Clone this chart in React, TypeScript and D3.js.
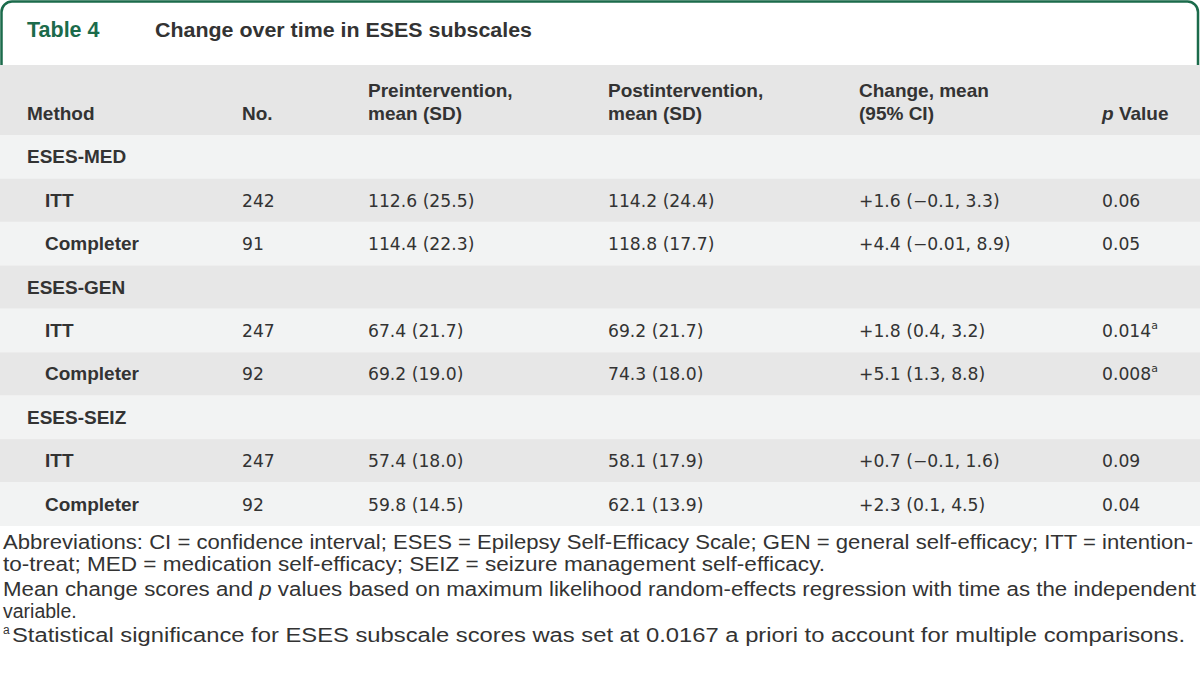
import React from "react";
import * as d3 from "d3";

const groups = ["ESES-MED", "ESES-GEN", "ESES-SEIZ"];
const methods = ["ITT", "Completer"];
const nValues = [242, 91, 247, 92, 247, 92];
const preMean = [112.6, 114.4, 67.4, 69.2, 57.4, 59.8];
const preSD = [25.5, 22.3, 21.7, 19.0, 18.0, 14.5];
const postMean = [114.2, 118.8, 69.2, 74.3, 58.1, 62.1];
const postSD = [24.4, 17.7, 21.7, 18.0, 17.9, 13.9];
const changeMean = [1.6, 4.4, 1.8, 5.1, 0.7, 2.3];
const ciLow = ["−0.1", "−0.01", "0.4", "1.3", "−0.1", "0.1"];
const ciHigh = [3.3, 8.9, 3.2, 8.8, 1.6, 4.5];
const pValues = ["0.06", "0.05", "0.014", "0.008", "0.09", "0.04"];
const significant = [false, false, true, true, false, false];

const headers = [
  ["Method"],
  ["No."],
  ["Preintervention,", "mean (SD)"],
  ["Postintervention,", "mean (SD)"],
  ["Change, mean", "(95% CI)"],
  ["p Value"],
];

const GREEN = "#1b6b4b";
const TEXT = "#333";
const FONT = "'Liberation Sans', Arial, sans-serif";
const NUMFONT = "'DejaVu Sans', sans-serif";

const colX = [27, 242, 368, 608, 859, 1102];

type Row = { kind: "group" | "sub"; label: string; idx?: number };

export default function App() {
  const rows: Row[] = [];
  groups.forEach((g, gi) => {
    rows.push({ kind: "group", label: g });
    methods.forEach((m, mi) => rows.push({ kind: "sub", label: m, idx: gi * 2 + mi }));
  });

  const y = d3
    .scaleBand<number>()
    .domain(d3.range(rows.length))
    .range([135, 526])
    .padding(0);
  const bw = y.bandwidth();

  const fmt1 = d3.format(".1f");
  const numProps = { fill: TEXT, fontSize: 17.2, fontFamily: NUMFONT };

  return (
    <svg
      width={1200}
      height={687}
      style={{ position: "absolute", left: 0, top: 0, background: "#fff" }}
      fontFamily={FONT}
    >
      <rect x={0} y={0} width={1200} height={687} fill="#fff" />
      {/* title frame */}
      <path
        d="M1.5,66 V12 A10.5,10.5 0 0 1 12,1.5 H1187.5 A10.5,10.5 0 0 1 1198,12 V66"
        fill="none"
        stroke={GREEN}
        strokeWidth={2.5}
      />
      <text x={27} y={37} fill={GREEN} fontSize={21.5} fontWeight="bold">
        Table 4
      </text>
      <text x={155} y={37} fill={TEXT} fontSize={20} fontWeight="bold" textLength={377} lengthAdjust="spacingAndGlyphs">
        Change over time in ESES subscales
      </text>

      {/* header band */}
      <rect x={0} y={65} width={1200} height={70} fill="#e6e6e6" />
      {headers.map((h, i) => (
        <g key={i}>
          {h.map((line, li) => (
            <text
              key={li}
              x={colX[i]}
              y={h.length === 2 ? 97 + li * 23 : 120}
              fill={TEXT}
              fontSize={19}
              fontWeight="bold"
            >
              {line === "p Value" ? (
                <>
                  <tspan fontStyle="italic">p</tspan> Value
                </>
              ) : (
                line
              )}
            </text>
          ))}
        </g>
      ))}

      {/* body rows */}
      {rows.map((r, i) => {
        const y0 = y(i)!;
        const cy = y0 + bw / 2 + 6.5;
        const fill = i % 2 === 0 ? "#f2f3f3" : "#e7e7e7";
        return (
          <g key={i}>
            <rect x={0} y={y0} width={1200} height={bw} fill={fill} />
            {r.kind === "group" ? (
              <text x={colX[0]} y={cy} fill={TEXT} fontSize={19} fontWeight="bold">
                {r.label}
              </text>
            ) : (
              <>
                <text x={45} y={cy} fill={TEXT} fontSize={19} fontWeight="bold">
                  {r.label}
                </text>
                <text x={colX[1]} y={cy} {...numProps}>
                  {nValues[r.idx!]}
                </text>
                <text x={colX[2]} y={cy} {...numProps}>
                  {`${fmt1(preMean[r.idx!])} (${fmt1(preSD[r.idx!])})`}
                </text>
                <text x={colX[3]} y={cy} {...numProps}>
                  {`${fmt1(postMean[r.idx!])} (${fmt1(postSD[r.idx!])})`}
                </text>
                <text x={colX[4]} y={cy} {...numProps}>
                  {`+${fmt1(changeMean[r.idx!])} (${ciLow[r.idx!]}, ${fmt1(ciHigh[r.idx!])})`}
                </text>
                <text x={colX[5]} y={cy} {...numProps}>
                  {pValues[r.idx!]}
                  {significant[r.idx!] && (
                    <tspan fontSize={11} dy={-8}>
                      a
                    </tspan>
                  )}
                </text>
              </>
            )}
          </g>
        );
      })}

      {/* footnotes */}
      <g fill={TEXT} fontSize={19.5}>
        <text x={3} y={549} textLength={1190} lengthAdjust="spacingAndGlyphs">
          Abbreviations: CI = confidence interval; ESES = Epilepsy Self-Efficacy Scale; GEN = general self-efficacy; ITT = intention-
        </text>
        <text x={3} y={571} textLength={822} lengthAdjust="spacingAndGlyphs">
          to-treat; MED = medication self-efficacy; SEIZ = seizure management self-efficacy.
        </text>
        <text x={3} y={596} textLength={1193} lengthAdjust="spacingAndGlyphs">
          Mean change scores and <tspan fontStyle="italic">p</tspan> values based on maximum likelihood random-effects regression with time as the independent
        </text>
        <text x={3} y={618}>
          variable.
        </text>
        <text x={3} y={634} fontSize={12}>
          a
        </text>
        <text x={12} y={642} textLength={1173} lengthAdjust="spacingAndGlyphs">
          Statistical significance for ESES subscale scores was set at 0.0167 a priori to account for multiple comparisons.
        </text>
      </g>
    </svg>
  );
}
